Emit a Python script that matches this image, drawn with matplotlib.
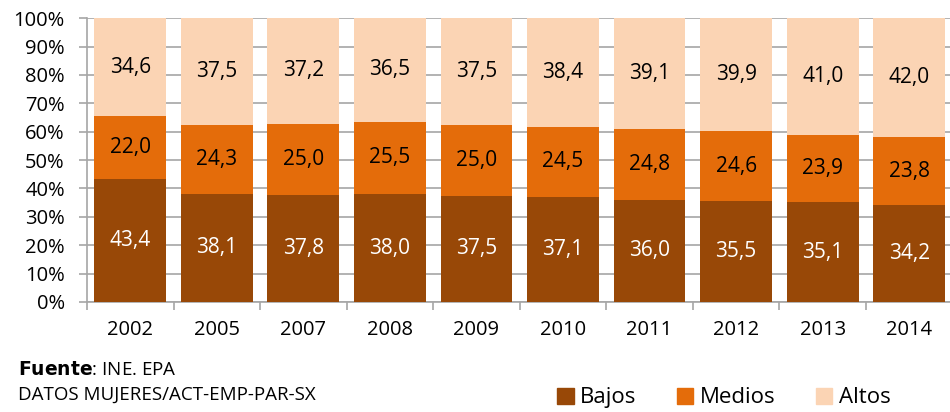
import numpy as np
import matplotlib.pyplot as plt
from matplotlib.patches import Patch

# datos
years = ["2002", "2005", "2007", "2008", "2009", "2010", "2011", "2012", "2013", "2014"]
bajos = [43.4, 38.1, 37.8, 38.0, 37.5, 37.1, 36.0, 35.5, 35.1, 34.2]
medios = [22.0, 24.3, 25.0, 25.5, 25.0, 24.5, 24.8, 24.6, 23.9, 23.8]
altos = [34.6, 37.5, 37.2, 36.5, 37.5, 38.4, 39.1, 39.9, 41.0, 42.0]

c_bajos = "#984807"
c_medios = "#E46C0A"
c_altos = "#FBD4B4"
grid_c = "#A6A6A6"

plt.rcParams['font.family'] = ['Open Sans', 'DejaVu Sans']

b = np.array(bajos)
m = np.array(medios)
a = np.array(altos)
tot = b + m + a
b_p = b / tot * 100
m_p = m / tot * 100
a_p = a / tot * 100

fig = plt.figure(figsize=(9.5, 4.12), dpi=100)
ax = fig.add_axes([0.0916, 0.267, 0.911, 0.689])

x = np.arange(len(years))
w = 0.83
ax.bar(x, b_p, w, color=c_bajos, zorder=3)
ax.bar(x, m_p, w, bottom=b_p, color=c_medios, zorder=3)
ax.bar(x, a_p, w, bottom=b_p + m_p, color=c_altos, zorder=3)

fs = 15
for i in range(len(years)):
    ax.text(x[i], b_p[i] / 2, f"{bajos[i]:.1f}".replace(".", ","), ha="center", va="center",
            color="white", fontsize=fs, zorder=4)
    ax.text(x[i], b_p[i] + m_p[i] / 2, f"{medios[i]:.1f}".replace(".", ","), ha="center",
            va="center", color="black", fontsize=fs, zorder=4)
    ax.text(x[i], b_p[i] + m_p[i] + a_p[i] / 2, f"{altos[i]:.1f}".replace(".", ","),
            ha="center", va="center", color="black", fontsize=fs, zorder=4)

ax.set_xlim(-0.5, len(years) - 0.5)
ax.set_ylim(0, 100)
ax.set_yticks(np.arange(0, 101, 10))
ax.set_yticklabels([f"{v}%" for v in range(0, 101, 10)], fontsize=14.5)
ax.set_xticks(x)
ax.set_xticklabels(years, fontsize=14.5)
ax.set_xticks(np.arange(-0.5, len(years), 1), minor=True)
ax.tick_params(axis="x", which="major", length=0, pad=13)
ax.tick_params(axis="x", which="minor", length=6, color=grid_c, width=1.2)
ax.tick_params(axis="y", length=6, color=grid_c, width=1.2, pad=10)
ax.yaxis.grid(True, color=grid_c, linewidth=1.2, zorder=0)
ax.set_axisbelow(True)
for s in ["top", "right"]:
    ax.spines[s].set_visible(False)
for s in ["left", "bottom"]:
    ax.spines[s].set_color(grid_c)
    ax.spines[s].set_linewidth(1.2)

fig.text(0.019, 0.09, r"$\bf{Fuente}$: INE. EPA", fontsize=13.5, va="baseline")
fig.text(0.019, 0.029, "DATOS MUJERES/ACT-EMP-PAR-SX", fontsize=13.5, va="baseline")

handles = [Patch(color=c_bajos), Patch(color=c_medios), Patch(color=c_altos)]
fig.legend(handles, ["Bajos", "Medios", "Altos"], loc="center", bbox_to_anchor=(0.762, 0.034),
           ncol=3, frameon=False, fontsize=16, handlelength=0.75, handleheight=0.75,
           handletextpad=0.3, columnspacing=1.8)

fig.savefig("out.png", dpi=100)
